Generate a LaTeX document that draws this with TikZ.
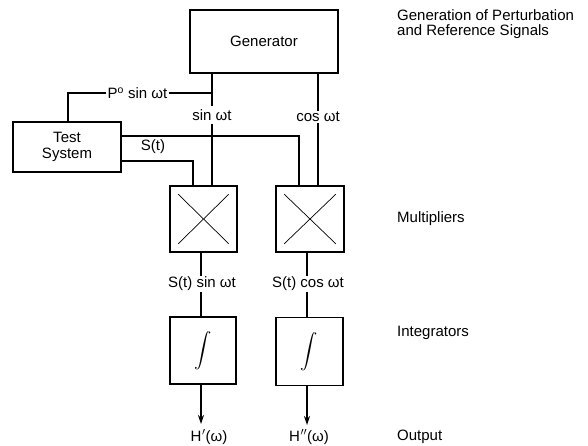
\documentclass[tikz,border=0pt]{standalone}
\usepackage{amsmath}
\usepackage{fontspec}
\setmainfont{Liberation Sans}
\usetikzlibrary{arrows.meta,calc}
\begin{document}
\begin{tikzpicture}[x=1pt,y=-1pt,
  every node/.style={font=\fontsize{15}{17}\selectfont},
  blk/.style={draw,line width=1.6pt,inner sep=0pt},
  wire/.style={line width=1.3pt},
  lbl/.style={inner sep=1pt},
  side/.style={anchor=west,align=left,inner sep=0pt},
  xline/.style={line width=0.7pt}]
\useasboundingbox (0,0) rectangle (588,446);
% blocks
\node[blk,minimum width=148pt,minimum height=63pt] (gen) at (264,41.5) {Generator};
\node[blk,minimum width=108pt,minimum height=50pt,align=center] (test) at (67,147) {Test\\[-1pt]System};
\node[blk,minimum width=67pt,minimum height=66pt] (m1) at (203.5,219) {};
\node[blk,minimum width=68pt,minimum height=66pt] (m2) at (310,219) {};
\node[blk,minimum width=66pt,minimum height=67pt] (i1) at (203,350.5) {\fontsize{17}{20}\selectfont$\displaystyle\int$};
\node[blk,minimum width=67pt,minimum height=68pt] (i2) at (309.5,351.5) {\fontsize{17}{20}\selectfont$\displaystyle\int$};
% multiplier crosses
\draw[xline] ($(m1.north west)+(9,9)$) -- ($(m1.south east)+(-9,-9)$);
\draw[xline] ($(m1.north east)+(-9,9)$) -- ($(m1.south west)+(9,-9)$);
\draw[xline] ($(m2.north west)+(9,9)$) -- ($(m2.south east)+(-9,-9)$);
\draw[xline] ($(m2.north east)+(-9,9)$) -- ($(m2.south west)+(9,-9)$);
% labels on wires
\node[lbl] (sinl) at (212,115) {sin ωt};
\node[lbl] (cosl) at (318,117) {cos ωt};
\node[lbl] (pl) at (137.5,93) {P\textsuperscript{o} sin ωt};
\node[lbl] (stl) at (153,147) {S(t)};
\node[lbl] (s1l) at (202,284) {S(t) sin ωt};
\node[lbl] (s2l) at (308,284) {S(t) cos ωt};
\node[lbl] (h1l) at (209,437) {H\kern0.5pt$'$(ω)};
\node[lbl] (h2l) at (309,437) {H\kern0.5pt$''$(ω)};
% coordinates
\coordinate (jn) at (212,93);
% wires
\draw[wire] (gen.south -| jn) -- ($(sinl.north)+(0,-2)$);
\draw[wire] ($(sinl.south)+(0,2)$) -- (m1.north -| jn);
\draw[wire] (jn) -- (pl.east);
\draw[wire] (pl.west) -| (test.north -| 68,0);
\draw[wire] (gen.south -| cosl) -- (cosl.north);
\draw[wire] (cosl.south) -- (m2.north -| cosl);
\draw[wire] (test.east |- 0,136) -| (m2.north -| 299,0);
\draw[wire] (test.east |- 0,161) -| (m1.north -| 193,0);
\draw[wire] (m1.south -| 201,0) -- (s1l.north -| 201,0);
\draw[wire] (s1l.south -| 201,0) -- (i1.north -| 201,0);
\draw[wire] (m2.south -| 307,0) -- (s2l.north -| 307,0);
\draw[wire] (s2l.south -| 307,0) -- (i2.north -| 307,0);
\draw[wire,-{Stealth[length=9pt,width=6pt]}] (i1.south -| 201,0) -- (201,424);
\draw[wire,-{Stealth[length=9pt,width=6pt]}] (i2.south -| 307,0) -- (307,425);
% side labels
\node[side] (t1) at (397,24) {Generation of Perturbation\\[-2pt]and Reference Signals};
\node[side] (t2) at (397,219) {Multipliers};
\node[side] (t3) at (397,333) {Integrators};
\node[side] (t4) at (397,437) {Output};
\end{tikzpicture}
\end{document}
